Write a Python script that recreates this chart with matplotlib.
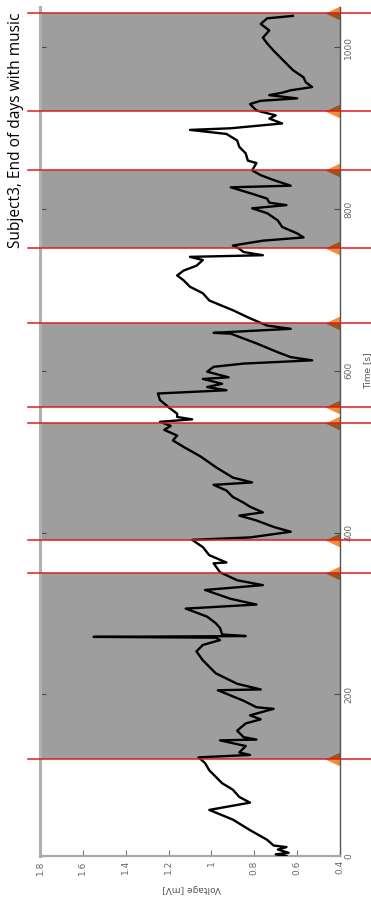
import matplotlib
matplotlib.use('Agg')
import matplotlib.pyplot as plt
import numpy as np

# voltage trace (s, mV)
time_s = [0, 2, 4, 8, 11, 13, 20, 32, 45, 57, 66, 73, 82, 90, 98, 106, 115, 122,
          125, 128, 136, 143, 144, 147, 155, 164, 169, 174, 182, 184, 192, 205, 206,
          213, 226, 242, 253, 261, 267, 270, 271, 272, 274, 282, 288, 296, 306, 307,
          311, 318, 329, 335, 341, 351, 362, 363, 372, 382, 391, 394, 401, 407, 415,
          421, 425, 432, 437, 444, 452, 459, 462, 468, 481, 494, 506, 514, 520, 527,
          532, 537, 540, 543, 547, 555, 564, 572, 576, 580, 584, 590, 592, 599, 605,
          609, 613, 617, 623, 634, 646, 647, 652, 656, 665, 675, 687, 696, 704, 712,
          718, 724, 730, 737, 741, 743, 747, 751, 755, 761, 765, 770, 778, 786, 795,
          801, 805, 808, 813, 819, 827, 829, 836, 842, 848, 857, 860, 869, 877, 885,
          893, 898, 900, 906, 912, 916, 922, 930, 934, 937, 941, 944, 947, 951, 957,
          963, 972, 980, 988, 996, 1005, 1012, 1021, 1029, 1036, 1039]
voltage = [0.65, 0.70, 0.64, 0.69, 0.65, 0.71, 0.74, 0.82, 0.90, 1.01, 0.82, 0.87, 0.90,
           0.95, 0.98, 1.01, 1.03, 1.06,
           0.82, 0.87, 0.84, 0.96, 0.79, 0.85, 0.88, 0.84, 0.77, 0.82, 0.71, 0.79, 0.85,
           0.97, 0.77, 0.88, 0.98, 1.04, 1.07, 1.04, 0.96, 0.98, 1.55, 0.84, 0.95, 0.96,
           0.98, 1.02, 1.12, 1.05, 0.79, 0.91, 1.03, 0.76, 0.88, 0.96, 0.99, 0.93, 1.01,
           1.04, 1.09, 0.82, 0.63, 0.71, 0.79, 0.87, 0.76, 0.82, 0.85, 0.90, 0.93, 0.99,
           0.81, 0.90, 0.98, 1.05, 1.13, 1.18, 1.16, 1.22, 1.19, 1.24, 1.09, 1.16, 1.16,
           1.20, 1.24, 1.25, 0.93, 1.02, 0.95, 1.04, 0.92, 1.02, 0.99, 0.85, 0.53, 0.63,
           0.69, 0.79, 0.91, 0.99, 0.63, 0.74, 0.82, 0.90, 1.01, 1.04, 1.10, 1.13, 1.16,
           1.13, 1.07, 1.04, 1.10, 0.76, 0.85, 0.87, 0.90, 0.76, 0.57, 0.60, 0.67, 0.69,
           0.74, 0.81, 0.65, 0.73, 0.74, 0.81, 0.91, 0.63, 0.71, 0.77, 0.81, 0.79, 0.83,
           0.84, 0.87, 0.88, 0.93, 1.10, 0.91, 0.67, 0.73, 0.70, 0.79, 0.82, 0.77, 0.60,
           0.73, 0.67, 0.63, 0.53, 0.56, 0.57, 0.62, 0.65, 0.68, 0.71, 0.74, 0.76, 0.73,
           0.77, 0.74, 0.62]

# music on/off boundaries; shaded intervals between pairs
events = [120, 350, 391, 535, 555, 659, 752, 848, 921, 1042]
music_start = events[0::2]
music_end = events[1::2]

volt_ticks = [1.8, 1.6, 1.4, 1.2, 1.0, 0.8, 0.6, 0.4]
volt_labels = ['1.8', '1.6', '1.4', '1.2', '1', '0.8', '0.6', '0.4']
time_ticks = [0, 200, 400, 600, 800, 1000]

W, H = 371, 899
fig = plt.figure(figsize=(W / 100, H / 100), dpi=100)
ax = fig.add_axes([40 / W, 43 / H, 300 / W, 849 / H])
ax.set_xlim(1.8, 0.4)
ax.set_ylim(0, 1050)

# markers at the right edge, under the shading
tri = [(-1, 0), (0, 0.47), (0, -0.47), (-1, 0)]
ax.plot([0.4] * len(events), events, linestyle='none', marker=tri, markersize=21.6,
        color='#f58c32', markeredgewidth=0, clip_on=False, zorder=1)

for s, e in zip(music_start, music_end):
    ax.axhspan(s, e, color='black', alpha=0.38, lw=0, zorder=2)

ax.plot(voltage, time_s, color='black', lw=1.7, zorder=3)

for t in events:
    ax.axhline(t, xmin=-0.04, xmax=1.11, color='#e01b24', lw=1.1, clip_on=False, zorder=5)

ax.set_xticks(volt_ticks)
ax.set_xticklabels(volt_labels)
ax.set_yticks(time_ticks)
ax.tick_params(axis='x', direction='in', length=4, color='#777777', labelsize=6.5,
               labelcolor='#666666', labelrotation=90, pad=3)
ax.tick_params(axis='y', direction='in', length=4, color='#777777', labelsize=6.5,
               labelcolor='#666666', left=True, right=True, labelleft=False,
               labelright=True, labelrotation=90, pad=3)
for lbl in ax.get_yticklabels():
    lbl.set_va('center')

ax.spines['top'].set_visible(False)
ax.spines['left'].set_color('#b0b0b0')
ax.spines['left'].set_linewidth(2.2)
ax.spines['bottom'].set_color('#a8a8a8')
ax.spines['bottom'].set_linewidth(1.6)
ax.spines['right'].set_color('#555555')
ax.spines['right'].set_linewidth(1.0)

ax.text(0.507, -0.038, 'Voltage [mV]', transform=ax.transAxes, rotation=180,
        ha='center', va='center', fontsize=6.5, color='#555555')
ax.text(1.093, 0.572, 'Time [s]', transform=ax.transAxes, rotation=90,
        ha='center', va='center', fontsize=6.5, color='#555555')

fig.text(16 / W, 1 - 248 / H, 'Subject3, End of days with music', rotation=90,
         ha='center', va='bottom', fontsize=11.2, family='Open Sans', color='black')

fig.savefig('out.png', dpi=100)
